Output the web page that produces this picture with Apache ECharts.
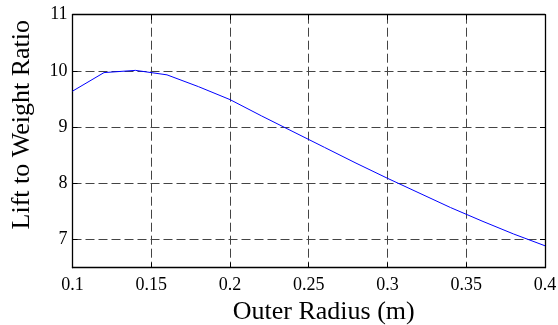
<!DOCTYPE html>
<html>
<head>
<meta charset="utf-8">
<script src="https://cdn.jsdelivr.net/npm/echarts@6/dist/echarts.min.js"></script>
<style>html,body{margin:0;padding:0;background:#fff}#c{width:558px;height:325px}</style>
</head>
<body>
<div id="c"></div>
<script>
const radius = [0.10,0.12,0.14,0.16,0.18,0.20,0.22,0.24,0.26,0.28,0.30,0.32,0.34,0.36,0.38,0.40];
const ratio  = [9.64,9.97,10.01,9.93,9.72,9.49,9.20,8.92,8.64,8.36,8.09,7.83,7.57,7.33,7.10,6.89];
const yTicks = [7,8,9,10,11];
const xLabel = 'Outer Radius (m)';
const yLabel = 'Lift to Weight Ratio';

const font = 'Liberation Serif';
const chart = echarts.init(document.getElementById('c'), null, {renderer:'canvas'});
const axisLine = {show:true, onZero:false, lineStyle:{color:'#000', width:1.3}};
const grid = {left:72.5, right:13, top:14.7, bottom:57.3, containLabel:false, outerBoundsMode:'none'};
const split = {show:true, lineStyle:{color:'#444', type:[9,4], width:1}};
chart.setOption({
  animation:false,
  backgroundColor:'#fff',
  grid: grid,
  xAxis: [{
    type:'value', min:0.1, max:0.4, interval:0.05, position:'bottom',
    name:xLabel, nameLocation:'middle', nameGap:24,
    nameTextStyle:{fontFamily:font, fontSize:26, color:'#000', padding:[0,0,0,30]},
    axisLine:axisLine,
    axisTick:{show:true, inside:true, length:5, lineStyle:{color:'#000'}},
    axisLabel:{fontFamily:font, fontSize:18, color:'#000', margin:9},
    splitLine:split
  },{
    type:'value', min:0.1, max:0.4, interval:0.05, position:'top',
    axisLine:axisLine,
    axisTick:{show:true, inside:true, length:5, lineStyle:{color:'#000'}},
    axisLabel:{show:false}, splitLine:{show:false}
  }],
  yAxis: [{
    type:'value', min:6.5, max:11, position:'left',
    name:yLabel, nameLocation:'middle', nameGap:37,
    nameTextStyle:{fontFamily:font, fontSize:26, color:'#000', padding:[0,0,0,33]},
    axisLine:axisLine,
    axisTick:{show:true, inside:true, length:5, customValues:yTicks, lineStyle:{color:'#000'}},
    axisLabel:{fontFamily:font, fontSize:18, color:'#000', margin:5, customValues:yTicks},
    splitLine:split
  },{
    type:'value', min:6.5, max:11, position:'right',
    axisLine:axisLine,
    axisTick:{show:true, inside:true, length:5, customValues:yTicks, lineStyle:{color:'#000'}},
    axisLabel:{show:false, customValues:yTicks}, splitLine:{show:false}
  }],
  series: [{
    type:'line', xAxisIndex:0, yAxisIndex:0,
    data: radius.map((r,i)=>[r, ratio[i]]),
    showSymbol:false, smooth:false,
    lineStyle:{color:'#0000ff', width:1}
  }]
});
</script>
</body>
</html>
